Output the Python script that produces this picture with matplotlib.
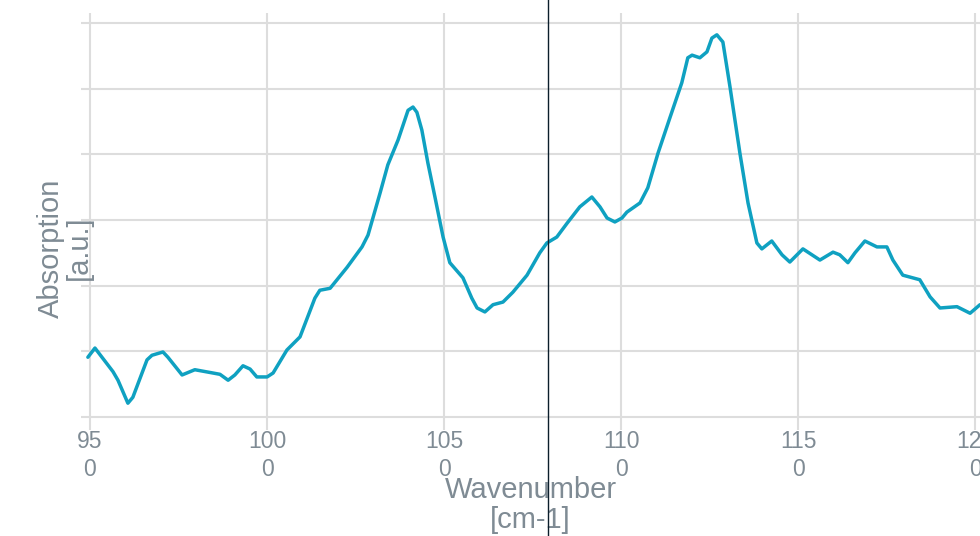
import matplotlib.pyplot as plt

# spectrum
wavenumber = [949.4, 951.4, 956.5, 957.9, 960.7, 962.1, 966.1, 967.5, 970.6, 972.0,
              976.0, 979.6, 984.7, 986.7, 989.0, 990.9, 993.2, 995.2, 997.1, 1000.0,
              1001.7, 1005.6, 1009.3, 1013.5, 1014.9, 1017.8, 1022.6, 1026.8, 1028.5, 1031.9,
              1034.1, 1037.0, 1039.8, 1041.2, 1042.3, 1043.7, 1045.4, 1047.4, 1049.7, 1051.6,
              1055.3, 1057.8, 1059.3, 1061.5, 1063.8, 1066.6, 1069.4, 1073.4, 1077.0, 1079.0,
              1081.8, 1084.7, 1088.3, 1091.7, 1094.0, 1096.0, 1098.2, 1100.2, 1101.6, 1105.3,
              1107.5, 1110.4, 1113.7, 1117.1, 1118.8, 1120.0, 1122.2, 1124.2, 1125.6, 1127.0,
              1128.7, 1130.7, 1133.5, 1135.8, 1138.3, 1139.7, 1142.5, 1145.4, 1147.6, 1151.3,
              1156.1, 1159.8, 1161.7, 1164.0, 1166.0, 1168.8, 1172.2, 1175.0, 1176.7, 1179.5,
              1184.3, 1187.2, 1190.0, 1194.8, 1198.5, 1201.3]
absorption = [0.91, 1.05, 0.69, 0.56, 0.21, 0.30, 0.87, 0.94, 0.99, 0.91,
              0.64, 0.72, 0.67, 0.65, 0.56, 0.64, 0.78, 0.73, 0.61, 0.61,
              0.67, 1.02, 1.22, 1.81, 1.93, 1.96, 2.28, 2.59, 2.77, 3.41,
              3.84, 4.22, 4.67, 4.72, 4.64, 4.37, 3.87, 3.35, 2.74, 2.35,
              2.12, 1.81, 1.66, 1.60, 1.71, 1.75, 1.90, 2.16, 2.50, 2.65,
              2.74, 2.95, 3.20, 3.35, 3.20, 3.03, 2.97, 3.03, 3.12, 3.26,
              3.49, 4.02, 4.55, 5.09, 5.47, 5.51, 5.47, 5.56, 5.77, 5.82,
              5.71, 5.03, 4.02, 3.26, 2.65, 2.56, 2.68, 2.47, 2.36, 2.56,
              2.39, 2.51, 2.47, 2.35, 2.50, 2.68, 2.59, 2.59, 2.39, 2.16,
              2.09, 1.83, 1.66, 1.68, 1.58, 1.71]

x_ticks = [950, 1000, 1050, 1100, 1150, 1200]
x_tick_labels = ['95\n0', '100\n0', '105\n0', '110\n0', '115\n0', '120\n0']
y_ticks = [0, 1, 2, 3, 4, 5, 6]
marker_x = 1079.3

text_color = '#7f8b94'
grid_color = '#dddddd'
line_color = '#0fa1c1'

plt.rcParams['font.family'] = ['Liberation Sans', 'DejaVu Sans']

fig = plt.figure(figsize=(9.8, 5.36), dpi=100)
W, H = 980, 536
ax = fig.add_axes([81 / W, (H - 430) / H, (W - 81) / W, (430 - 13) / H])

ax.plot(wavenumber, absorption, color=line_color, lw=2.5,
        solid_joinstyle='round', solid_capstyle='round', zorder=3)

ax.set_xlim(947.46, 1201.3)
ax.set_ylim(-0.198, 6.152)
ax.set_xticks(x_ticks)
ax.set_xticklabels(x_tick_labels, fontsize=16.5, color=text_color,
                   multialignment='center', linespacing=1.3)
ax.set_yticks(y_ticks)
ax.set_yticklabels([])
ax.tick_params(length=0, pad=0)
ax.grid(True, color=grid_color, lw=1.5)
ax.set_axisbelow(True)
for s in ax.spines.values():
    s.set_visible(False)

ax.set_xlabel('Wavenumber\n[cm-1]', fontsize=21, color=text_color,
              linespacing=1.1, labelpad=-4)
fig.text(65 / W, 1 - 248 / H, 'Absorption\n[a.u.]', rotation=90, fontsize=21,
         color=text_color, ha='center', va='center', linespacing=1.0,
         multialignment='center')

ax.axvline(marker_x, ymin=-0.3, ymax=1.1, color='#0b1e2b', lw=1,
           clip_on=False, zorder=10)

fig.savefig('out.png', dpi=100)
